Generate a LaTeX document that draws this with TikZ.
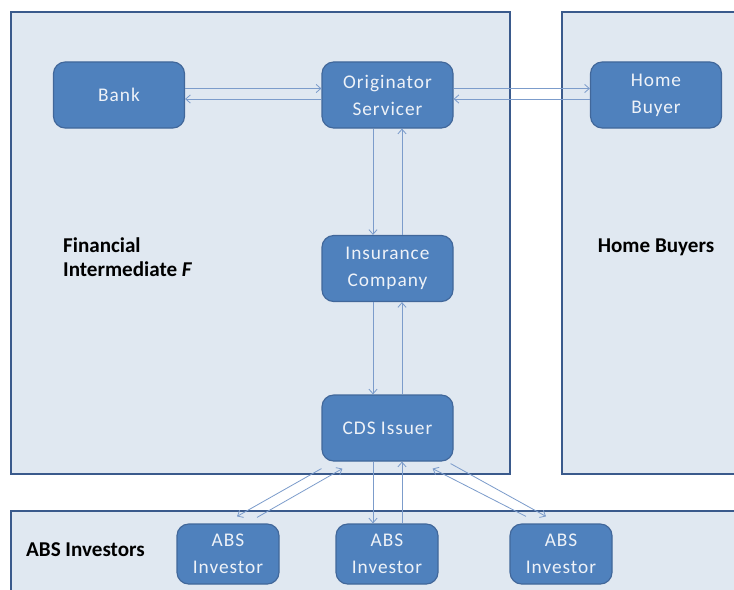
\documentclass[tikz,border=0pt]{standalone}
\usepackage{fontspec}
\setmainfont{Carlito}
\newfontfamily\boxfont[LetterSpace=5]{Carlito}
\usepackage{tikz}
\usetikzlibrary{
  arrows.meta,
  positioning,
  calc
}
\definecolor{PanelFill}{HTML}{E0E8F1}
\definecolor{PanelLine}{HTML}{3A5A8C}
\definecolor{BoxFill}{HTML}{4F81BD}
\definecolor{BoxLine}{HTML}{41679A}
\definecolor{BoxText}{HTML}{EEF2F8}
\definecolor{ArrBlue}{HTML}{7C9CCB}
\tikzset{
  % Party panel (background group)
  panel/.style={
    rectangle, draw=PanelLine, fill=PanelFill, line width=1.6pt
  },
  % Actor box: fixed size, white text
  actor/.style={
    rectangle, rounded corners=10pt,
    draw=BoxLine, fill=BoxFill, line width=1pt,
    minimum width=#1, minimum height=1.98cm,
    align=center, text=BoxText,
    font=\boxfont\fontsize{16.5}{23}\selectfont
  },
  actor/.default=3.93cm,
  % Investor box
  inv/.style={actor=3.06cm, minimum height=1.8cm},
  % Bold panel label
  lbl/.style={font=\fontsize{18}{20}\selectfont\bfseries, text=black},
  % Arrow
  arr/.style={
    -{Straight Barb[length=4pt,width=7pt]},
    line width=0.7pt, color=ArrBlue
  }
}
\begin{document}
\begin{tikzpicture}[x=0.03cm, y=-0.03cm]

  \useasboundingbox (0,0) rectangle (734,589);
  \clip (0,0) rectangle (734,589);

  % Panels
  \draw[panel] (11,12) rectangle (510,474);
  \draw[panel] (562,12) rectangle (770,474);
  \draw[panel] (11,511) rectangle (770,620);

  % Panel labels
  \node[lbl, anchor=west, align=left] (finlbl) at (59,257) {Financial\\Intermediate \textit{F}};
  \node[lbl] (homelbl) at (656,247) {Home Buyers};
  \node[lbl, anchor=west] (abslbl) at (22,550) {ABS Investors};

  % Actors
  \node[actor] (bank) at (119,95) {Bank};
  \node[actor] (orig) at (387.5,95) {Originator\\Servicer};
  \node[actor] (home) at (656,95) {Home\\Buyer};
  \node[actor] (ins)  at (387.5,268.5) {Insurance\\Company};
  \node[actor] (cds)  at (387.5,428) {CDS Issuer};

  % ABS investors
  \foreach \i/\x in {1/228, 2/387, 3/561}{
    \node[inv] (abs\i) at (\x,554) {ABS\\Investor};
  }

  % Horizontal flows
  \draw[arr] ($(bank.east)+(0,-6.5)$) -- ($(orig.west)+(0,-6.5)$);
  \draw[arr] ($(orig.west)+(0,4)$) -- ($(bank.east)+(0,4)$);
  \draw[arr] ($(orig.east)+(0,-6.5)$) -- ($(home.west)+(0,-6.5)$);
  \draw[arr] ($(home.west)+(0,4)$) -- ($(orig.east)+(0,4)$);

  % Vertical flows
  \draw[arr] ($(orig.south)+(-14.5,0)$) -- ($(ins.north)+(-14.5,0)$);
  \draw[arr] ($(ins.north)+(14.5,0)$) -- ($(orig.south)+(14.5,0)$);
  \draw[arr] ($(ins.south)+(-14.5,0)$) -- ($(cds.north)+(-14.5,0)$);
  \draw[arr] ($(cds.north)+(14.5,0)$) -- ($(ins.south)+(14.5,0)$);
  \draw[arr] ($(cds.south)+(-14.5,0)$) -- ($(abs2.north)+(-14,0)$);
  \draw[arr] ($(abs2.north)+(15,0)$) -- ($(cds.south)+(14.5,0)$);

  % Diagonal flows
  \draw[arr] ($(cds.south west)+(0,7)$) -- ($(abs1.north)+(9,-7)$);
  \draw[arr] ($(abs1.north)+(29,-6)$) -- ($(cds.south west)+(21,7)$);
  \draw[arr] ($(abs3.north)+(-35,-7)$) -- ($(cds.south east)+(-21,7)$);
  \draw[arr] ($(cds.south east)+(-3,2)$) -- ($(abs3.north)+(-15,-7)$);

\end{tikzpicture}
\end{document}
